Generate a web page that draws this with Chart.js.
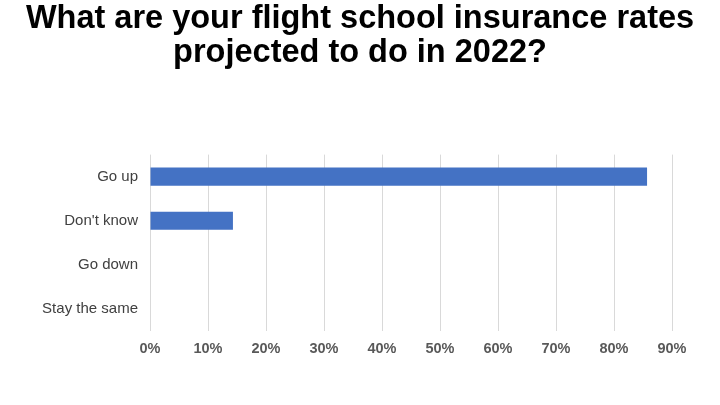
<!DOCTYPE html>
<html>
<head>
<meta charset="utf-8">
<script src="https://cdn.jsdelivr.net/npm/chart.js@4"></script>
<style>
html,body{margin:0;padding:0;background:#fff;}
#wrap{width:720px;height:405px;position:relative;}
</style>
</head>
<body>
<div id="wrap"><canvas id="c" width="720" height="405"></canvas></div>
<script>
const categories = ["Go up", "Don't know", "Go down", "Stay the same"];
const shares = [85.7, 14.3, 0, 0];
const tickValues = [0, 10, 20, 30, 40, 50, 60, 70, 80, 90];
const titleLines = ["What are your flight school insurance rates", "projected to do in 2022?"];

new Chart(document.getElementById('c'), {
  type: 'bar',
  data: {
    labels: categories,
    datasets: [{
      data: shares,
      backgroundColor: '#4472c4',
      borderWidth: 0,
      barPercentage: 0.41,
      categoryPercentage: 1
    }]
  },
  options: {
    indexAxis: 'y',
    responsive: false,
    animation: false,
    layout: { padding: 0 },
    plugins: {
      legend: { display: false },
      tooltip: { enabled: false },
      title: {
        display: true,
        text: titleLines,
        color: '#000',
        font: { family: 'Liberation Sans', weight: 'bold', size: 32.5, lineHeight: 1.04 },
        padding: { top: 2, bottom: 85 }
      }
    },
    scales: {
      x: {
        min: 0,
        max: tickValues[tickValues.length - 1],
        afterBuildTicks: s => { s.ticks = tickValues.map(v => ({ value: v })); },
        grid: { color: '#d9d9d9', drawTicks: false, lineWidth: 1 },
        border: { display: false },
        ticks: {
          padding: 9,
          color: '#595959',
          font: { family: 'Liberation Sans', weight: 'bold', size: 14.5 },
          callback: v => v + '%'
        },
        afterFit: s => { s.height = 74; }
      },
      y: {
        grid: { display: false, drawTicks: false },
        border: { display: false },
        ticks: {
          padding: 12,
          color: '#404040',
          font: { family: 'Liberation Sans', size: 15 }
        },
        afterFit: s => { s.width = 150; }
      },
      yRight: {
        type: 'linear',
        position: 'right',
        grid: { display: false, drawTicks: false },
        border: { display: false },
        ticks: { display: false },
        afterFit: s => { s.width = 48; }
      }
    }
  }
});
</script>
</body>
</html>
